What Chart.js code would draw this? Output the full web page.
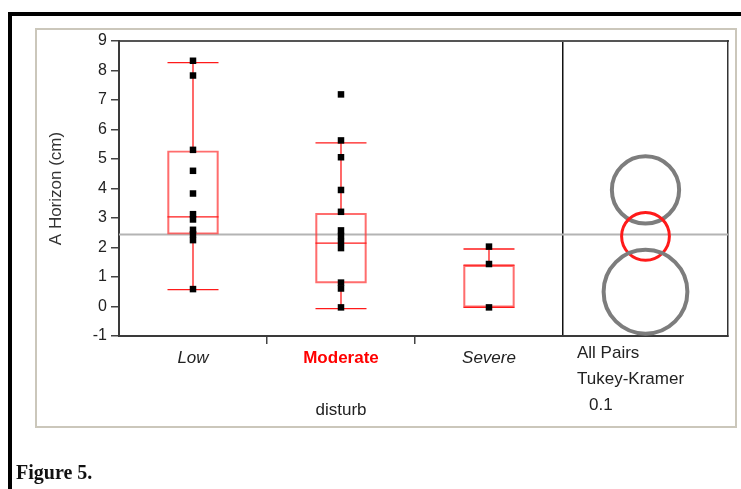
<!DOCTYPE html>
<html>
<head>
<meta charset="utf-8">
<script src="https://cdn.jsdelivr.net/npm/chart.js@4.4.1/dist/chart.umd.min.js"></script>
<style>
  body { margin: 0; background: #fff; }
  #wrap { position: relative; width: 741px; height: 489px; overflow: hidden; font-family: 'Liberation Sans', Arial, sans-serif; color: #222; }
  .abs { position: absolute; white-space: nowrap; }
  #frameTop { left: 8px; top: 12px; width: 740px; height: 4px; background: #000; }
  #frameLeft { left: 8px; top: 12px; width: 4px; height: 480px; background: #000; }
  #panel { left: 35px; top: 28px; width: 702px; height: 400px; border: 2px solid #cbc7bb; box-sizing: border-box; }
  #canvas { position: absolute; left: 0; top: 0; }
  .lbl { font-size: 17px; line-height: 20px; }
  #fig { left: 16px; top: 460px; font: bold 20px 'Liberation Serif', 'Times New Roman', serif; line-height: 24px; color: #111; }
</style>
</head>
<body>
<div id="wrap">
  <div class="abs" id="frameTop"></div>
  <div class="abs" id="frameLeft"></div>
  <div class="abs" id="panel"></div>
  <canvas id="canvas" width="741" height="489"></canvas>
  <div class="abs lbl" style="left:291px; top:400px; width:100px; text-align:center;">disturb</div>
  <div class="abs lbl" style="left:577px; top:343px;">All Pairs</div>
  <div class="abs lbl" style="left:577px; top:369px;">Tukey-Kramer</div>
  <div class="abs lbl" style="left:589px; top:395px;">0.1</div>
  <div class="abs" id="fig">Figure 5.</div>
</div>
<script>
// categories and raw observations per group
var categories = ['Low', 'Moderate', 'Severe'];
var highlightIndex = 1;
var lowValues = [8.33, 7.83, 5.31, 4.60, 3.83, 3.13, 2.95, 2.60, 2.45, 2.25, 0.59];
var moderateValues = [7.19, 5.63, 5.06, 3.95, 3.21, 2.58, 2.39, 2.19, 1.98, 0.81, 0.61, -0.03];
var severeValues = [2.03, 1.44, -0.03];

// box plot summaries
var whiskerLow = [0.57, -0.07, -0.03];
var boxQ1 = [2.45, 0.79, -0.03];
var boxMedian = [3.04, 2.15, 1.40];
var boxQ3 = [5.28, 3.16, 1.40];
var whiskerHigh = [8.27, 5.55, 1.95];
var grandMean = 2.44;

// comparison circles (centre and radius in cm)
var circleCenters = [3.95, 2.38, 0.50];
var circleRadii = [1.14, 0.81, 1.42];

var yMin = -1, yMax = 9;
var panelWidth = 1.115;   // comparison circle panel, in category widths
var xMax = categories.length + panelWidth;
var panelCenter = categories.length + panelWidth / 2;

var red = '#ff1a1a';
var gray = '#7d7d7d';
var tickFont = "'Liberation Sans', Arial, sans-serif";

function center(i) { return i + 0.5; }

var groups = [lowValues, moderateValues, severeValues];
var pointData = [];
groups.forEach(function(vals, i) {
    vals.forEach(function(v) { pointData.push({x: center(i), y: v}); });
});

var capData = [];
var whiskerData = [];
var boxData = [];
categories.forEach(function(c, i) {
    capData.push({x: center(i), y: whiskerLow[i]});
    capData.push({x: center(i), y: whiskerHigh[i]});
    capData.push({x: center(i), y: boxMedian[i]});
    whiskerData.push({x: center(i), y: whiskerLow[i]});
    whiskerData.push({x: center(i), y: boxQ1[i]});
    whiskerData.push({x: center(i), y: null});
    whiskerData.push({x: center(i), y: boxQ3[i]});
    whiskerData.push({x: center(i), y: whiskerHigh[i]});
    whiskerData.push({x: center(i), y: null});
    boxData.push({x: center(i), y: [boxQ1[i], boxQ3[i]]});
});

var circleData = circleCenters.map(function(v) { return {x: panelCenter, y: v}; });

function circleRadius(ctx) {
    if (ctx.dataIndex === undefined) return 0;
    var s = ctx.chart.scales.y;
    return Math.abs(s.getPixelForValue(0) - s.getPixelForValue(circleRadii[ctx.dataIndex]));
}

var config = {
    type: 'scatter',
    data: {
        datasets: [
            {
                label: 'observations',
                data: pointData,
                pointStyle: 'rect',
                pointRadius: 4.6,
                pointBorderWidth: 0,
                backgroundColor: '#000',
                borderColor: '#000'
            },
            {
                label: 'caps and medians',
                data: capData,
                pointStyle: 'line',
                pointRadius: 25.5,
                pointBorderWidth: 1.3,
                pointBorderColor: red,
                backgroundColor: red
            },
            {
                type: 'line',
                label: 'whiskers',
                data: whiskerData,
                borderColor: red,
                borderWidth: 1.3,
                pointRadius: 0,
                tension: 0,
                spanGaps: false
            },
            {
                type: 'bar',
                label: 'boxes',
                data: boxData,
                barThickness: 51,
                backgroundColor: 'rgba(0,0,0,0)',
                borderColor: 'rgba(255,60,60,0.75)',
                borderWidth: 1.5,
                borderSkipped: false
            },
            {
                label: 'comparison circles',
                data: circleData,
                pointStyle: 'circle',
                pointRadius: circleRadius,
                pointBorderWidth: [4, 3, 4],
                pointBorderColor: [gray, red, gray],
                backgroundColor: 'rgba(0,0,0,0)',
                clip: false
            },
            {
                type: 'line',
                label: 'grand mean',
                data: [{x: 0, y: grandMean}, {x: xMax, y: grandMean}],
                borderColor: '#b4b4b4',
                borderWidth: 2,
                pointRadius: 0
            }
        ]
    },
    options: {
        responsive: false,
        animation: false,
        events: [],
        layout: {
            autoPadding: false,
            padding: {left: 0, top: 41, right: 13, bottom: 113}
        },
        plugins: {
            legend: {display: false},
            tooltip: {enabled: false}
        },
        scales: {
            x: {
                type: 'linear',
                min: 0,
                max: xMax,
                offset: false,
                afterBuildTicks: function(scale) {
                    var t = [];
                    for (var v = 0.5; v <= categories.length; v += 0.5) t.push({value: v});
                    scale.ticks = t;
                },
                afterFit: function(scale) {
                    scale.height = 40;
                    scale.paddingLeft = 0;
                    scale.paddingRight = 0;
                },
                ticks: {
                    autoSkip: false,
                    maxRotation: 0,
                    padding: 4,
                    callback: function(value) {
                        var i = value - 0.5;
                        return Number.isInteger(i) && i < categories.length ? categories[i] : '';
                    },
                    color: function(ctx) {
                        return ctx.tick && ctx.tick.value - 0.5 === highlightIndex ? '#ff0000' : '#222';
                    },
                    font: function(ctx) {
                        var hl = ctx.tick && ctx.tick.value - 0.5 === highlightIndex;
                        return {family: tickFont, size: 17, style: hl ? 'normal' : 'italic', weight: hl ? 'bold' : 'normal'};
                    }
                },
                grid: {
                    offset: false,
                    drawOnChartArea: true,
                    drawTicks: true,
                    tickLength: 8,
                    lineWidth: 1.5,
                    color: function(ctx) {
                        return ctx.tick && ctx.tick.value === categories.length ? '#111' : 'rgba(0,0,0,0)';
                    },
                    tickColor: function(ctx) {
                        var v = ctx.tick && ctx.tick.value;
                        return Number.isInteger(v) && v > 0 && v < categories.length ? '#444' : 'rgba(0,0,0,0)';
                    }
                },
                border: {display: true, color: '#3a3a3a', width: 2}
            },
            xTop: {
                type: 'linear',
                position: 'top',
                min: 0,
                max: xMax,
                offset: false,
                afterFit: function(scale) { scale.height = 0; },
                ticks: {display: false},
                grid: {display: false},
                border: {display: true, color: '#555', width: 2}
            },
            y: {
                type: 'linear',
                min: yMin,
                max: yMax,
                afterFit: function(scale) { scale.width = 119; },
                ticks: {
                    stepSize: 1,
                    padding: 4,
                    color: '#222',
                    font: {family: tickFont, size: 16}
                },
                grid: {drawOnChartArea: false, tickLength: 8, tickColor: '#444', lineWidth: 1.5},
                border: {display: true, color: '#3a3a3a', width: 2},
                title: {
                    display: true,
                    text: 'A Horizon (cm)',
                    color: '#333',
                    font: {family: tickFont, size: 17},
                    padding: {top: 46, bottom: 0}
                }
            },
            yRight: {
                type: 'linear',
                position: 'right',
                min: yMin,
                max: yMax,
                afterFit: function(scale) { scale.width = 0; },
                ticks: {display: false},
                grid: {display: false},
                border: {display: true, color: '#333', width: 1.5}
            }
        }
    }
};

window.onload = function() {
    var ctx = document.getElementById('canvas').getContext('2d');
    window.myChart = new Chart(ctx, config);
};
</script>
</body>
</html>
